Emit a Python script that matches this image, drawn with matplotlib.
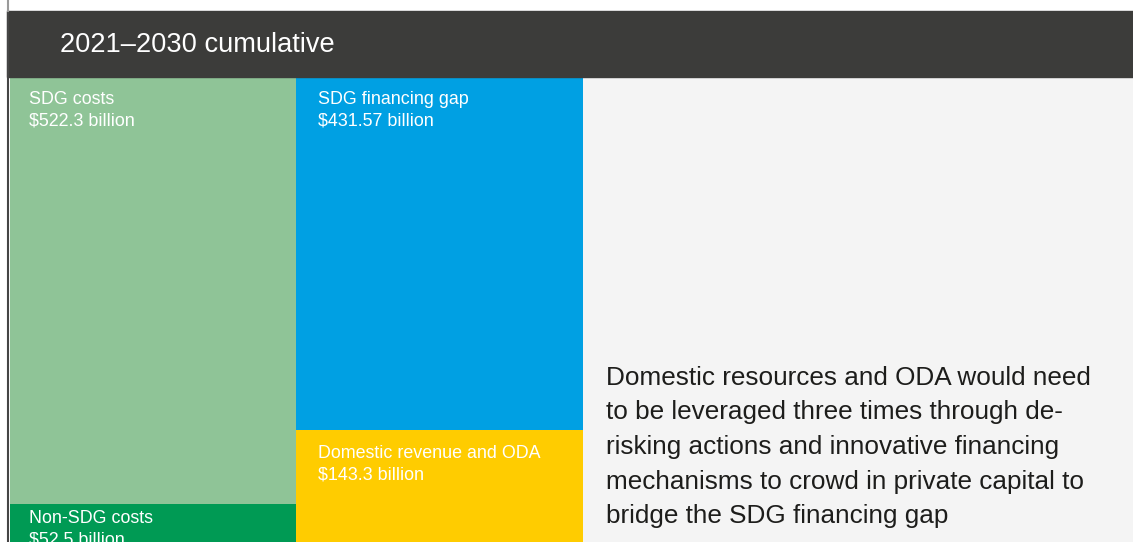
import matplotlib
matplotlib.use("Agg")
import matplotlib.pyplot as plt
import matplotlib.patches as mpatches
import matplotlib.lines as mlines

plt.rcParams.update({'font.family': ['Liberation Sans', 'DejaVu Sans']})

# stacked columns, values in $ billion (2021-2030 cumulative)
cost_labels = ['SDG costs', 'Non-SDG costs']
cost_values = [522.3, 52.5]
finance_labels = ['SDG financing gap', 'Domestic revenue and ODA']
finance_values = [431.57, 143.3]

title = '2021\u20132030 cumulative'
note_lines = ['Domestic resources and ODA would need',
              'to be leveraged three times through de-',
              'risking actions and innovative financing',
              'mechanisms to crowd in private capital to',
              'bridge the SDG financing gap']

cost_colors = ['#8fc497', '#009a54']
finance_colors = ['#00a0e3', '#ffcc00']

W, H = 1133, 542
fig = plt.figure(figsize=(W / 100, H / 100), dpi=100)
fig.patch.set_facecolor('white')

def fx(px):
    return px / W

def fy(py):
    return 1 - py / H

# plotting area under the header band
ax = fig.add_axes([fx(9.5), 0, 1 - fx(9.5), fy(76)])
ax.set_facecolor('#f4f4f4')
for s in ax.spines.values():
    s.set_visible(False)
ax.set_xticks([])
ax.set_yticks([])

px_per_unit = 428 / 522.3
ax.set_ylim((H - 76) / px_per_unit, 0)
ax.set_xlim(0, (W - 9.5) / 286.7)

columns = [(cost_labels, cost_values, cost_colors),
           (finance_labels, finance_values, finance_colors)]
for i, (labels, values, colors) in enumerate(columns):
    bottom = 0
    for j, (lab, val, col) in enumerate(zip(labels, values, colors)):
        ax.bar(i, val, bottom=bottom, width=1, align='edge',
               color=col, linewidth=0)
        dx = 20 if i == 0 else 21.5
        dy = 19 if lab == 'Non-SDG costs' else 28.5
        for k, line in enumerate([lab, f'${val:g} billion']):
            ax.annotate(line, xy=(i, bottom), xycoords='data',
                        xytext=(dx * 0.72, -(dy + 21 * k) * 0.72),
                        textcoords='offset points', ha='left', va='baseline',
                        color='white', fontsize=12.9, annotation_clip=False)
        bottom += val

# header band
fig.patches.append(mpatches.Rectangle((fx(7), fy(76.5)), 1 - fx(7), fy(11) - fy(76.5),
                                      transform=fig.transFigure,
                                      color='#3c3c3a', zorder=0))
fig.text(fx(60), fy(52.3), title, color='white', fontsize=19.6,
         ha='left', va='baseline')

# left frame rule
fig.add_artist(mlines.Line2D([fx(8), fx(8)], [0, fy(11)], transform=fig.transFigure,
                             color='#454545', linewidth=1.5))
fig.add_artist(mlines.Line2D([fx(8), fx(8)], [fy(11), 1], transform=fig.transFigure,
                             color='#9a9a9a', linewidth=1.5))

# side note
for k, line in enumerate(note_lines):
    fig.text(fx(606), fy(384.7 + 34.6 * k), line, color='#1d1d1b',
             fontsize=18.8, ha='left', va='baseline')

fig.savefig('out.png', dpi=100)
